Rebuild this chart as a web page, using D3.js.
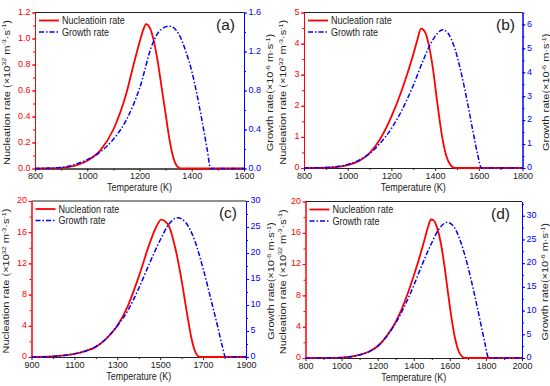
<!DOCTYPE html>
<html>
<head>
<meta charset="utf-8">
<script src="https://cdn.jsdelivr.net/npm/d3@7"></script>
<style>
body { margin: 0; background: #fff; }
svg text { font-family: "Liberation Sans", Arial, sans-serif; }
</style>
</head>
<body>
<svg id="chart" width="550" height="386"></svg>
<script>
// ---- data ----
// (a)
var tNucA = [800, 900, 950, 1000, 1050, 1100, 1150, 1180, 1200, 1215, 1225, 1240, 1255, 1270, 1285, 1300, 1315, 1330, 1345, 1360, 1600];
var nucA  = [0, 0.005, 0.02, 0.06, 0.14, 0.30, 0.58, 0.82, 0.97, 1.07, 1.11, 1.08, 0.98, 0.82, 0.62, 0.42, 0.22, 0.08, 0.015, 0, 0];
var tGroA = [800, 900, 950, 1000, 1050, 1100, 1150, 1200, 1250, 1280, 1315, 1350, 1380, 1400, 1420, 1440, 1460, 1472, 1600];
var groA  = [0, 0.01, 0.04, 0.09, 0.17, 0.30, 0.50, 0.82, 1.28, 1.42, 1.46, 1.38, 1.18, 1.00, 0.76, 0.48, 0.18, 0, 0];
// (b)
var tNucB = [800, 900, 950, 1000, 1050, 1100, 1150, 1200, 1250, 1300, 1320, 1335, 1350, 1370, 1390, 1410, 1430, 1450, 1470, 1490, 1800];
var nucB  = [0, 0.01, 0.03, 0.09, 0.22, 0.48, 0.95, 1.65, 2.55, 3.65, 4.15, 4.48, 4.42, 4.0, 3.2, 2.1, 1.1, 0.42, 0.1, 0, 0];
var tGroB = [800, 900, 950, 1000, 1050, 1100, 1150, 1200, 1250, 1300, 1350, 1380, 1410, 1435, 1460, 1490, 1520, 1550, 1575, 1595, 1612, 1800];
var groB  = [0, 0.02, 0.06, 0.15, 0.32, 0.60, 1.05, 1.65, 2.45, 3.45, 4.6, 5.2, 5.62, 5.78, 5.62, 5.0, 3.95, 2.65, 1.45, 0.55, 0, 0];
// (c)
var tNucC = [900, 1000, 1050, 1100, 1150, 1200, 1250, 1300, 1350, 1400, 1450, 1480, 1505, 1540, 1570, 1600, 1625, 1645, 1660, 1675, 1685, 1900];
var nucC  = [0, 0.08, 0.2, 0.4, 0.75, 1.3, 2.4, 4.0, 6.6, 10.3, 14.5, 16.6, 17.6, 16.8, 14.0, 9.8, 5.6, 2.5, 0.9, 0.15, 0, 0];
var tGroC = [900, 1000, 1050, 1100, 1150, 1200, 1250, 1300, 1350, 1400, 1450, 1500, 1540, 1580, 1620, 1660, 1700, 1740, 1770, 1790, 1805, 1900];
var groC  = [0, 0.12, 0.3, 0.6, 1.1, 2.0, 3.6, 6.0, 9.0, 13.2, 18.0, 22.5, 25.5, 26.8, 25.8, 22.5, 17.0, 10.5, 5.5, 2.0, 0, 0];
// (d)
var tNucD = [800, 900, 1000, 1100, 1150, 1200, 1250, 1300, 1350, 1400, 1450, 1480, 1495, 1510, 1530, 1550, 1570, 1590, 1610, 1630, 1650, 1670, 1685, 2000];
var nucD  = [0, 0.01, 0.06, 0.4, 0.8, 1.5, 2.8, 4.6, 7.2, 10.5, 14.3, 16.8, 17.7, 17.6, 16.6, 14.7, 11.8, 8.3, 5.0, 2.4, 0.8, 0.15, 0, 0];
var tGroD = [800, 900, 1000, 1100, 1150, 1200, 1250, 1300, 1350, 1400, 1450, 1500, 1540, 1585, 1620, 1660, 1700, 1740, 1770, 1795, 1815, 2000];
var groD  = [0, 0.02, 0.1, 0.66, 1.3, 2.5, 4.6, 7.4, 11.0, 15.3, 20.0, 24.3, 27.2, 28.6, 27.8, 24.5, 19.3, 12.8, 7.5, 3.0, 0, 0];

// tick values
var xTicksA = [800, 1000, 1200, 1400, 1600];
var xTicksB = [800, 1000, 1200, 1400, 1600, 1800];
var xTicksC = [900, 1100, 1300, 1500, 1700, 1900];
var xTicksD = [800, 1000, 1200, 1400, 1600, 1800, 2000];
var yLeftTicksA = [0, 0.2, 0.4, 0.6, 0.8, 1.0, 1.2];
var yRightTicksA = [0, 0.4, 0.8, 1.2, 1.6];
var yLeftTicksB = [0, 1, 2, 3, 4, 5];
var yRightTicksB = [0, 1, 2, 3, 4, 5, 6];
var yLeftTicksCD = [0, 4, 8, 12, 16, 20];
var yRightTicksCD = [0, 5, 10, 15, 20, 25, 30];

var RED = "#ff0000", BLUE = "#0000ff", DARK = "#222";

var panels = [
  { label: "(a)", legend: "Nucleatioin rate", left: 35, top: 12.5, right: 244, bottom: 168.5,
    xd: [800, 1600], xt: xTicksA, xm: 100, yl: [0, 1.2], ylt: yLeftTicksA, ylm: 0.1, ylf: ".1f",
    yr: [0, 1.6], yrt: yRightTicksA, yrm: 0.2, yrf: ".1f",
    tn: tNucA, n: nucA, tg: tGroA, gr: groA, lt: 5.5, rt: 269, lab: 9 },
  { label: "(b)", legend: "Nucleation rate", left: 304, top: 12.5, right: 522.5, bottom: 168,
    xd: [800, 1800], xt: xTicksB, xm: 100, yl: [0, 5], ylt: yLeftTicksB, ylm: 0.5, ylf: "d",
    yr: [0, 6.5], yrt: yRightTicksB, yrm: 0.5, yrf: "d",
    tn: tNucB, n: nucB, tg: tGroB, gr: groB, lt: 282, rt: 545, lab: 7.5 },
  { label: "(c)", legend: "Nucleation rate", left: 31.5, top: 201, right: 246, bottom: 357,
    xd: [900, 1900], xt: xTicksC, xm: 100, yl: [0, 20], ylt: yLeftTicksCD, ylm: 2, ylf: "d",
    yr: [0, 30], yrt: yRightTicksCD, yrm: 2.5, yrf: "d",
    tn: tNucC, n: nucC, tg: tGroC, gr: groC, lt: 5, rt: 270, lab: 9 },
  { label: "(d)", legend: "Nucleation rate", left: 305.5, top: 201.5, right: 522, bottom: 358,
    xd: [800, 2000], xt: xTicksD, xm: 100, yl: [0, 20], ylt: yLeftTicksCD, ylm: 2, ylf: "d",
    yr: [0, 33], yrt: yRightTicksCD, yrm: 2.5, yrf: "d",
    tn: tNucD, n: nucD, tg: tGroD, gr: groD, lt: 281.5, rt: 544, lab: 12 }
];

var svg = d3.select("#chart");
svg.append("rect").attr("width", 550).attr("height", 386).attr("fill", "#fff");

function range(a, b, s) {
  var out = [];
  for (var v = a; v <= b + 1e-9; v += s) out.push(+v.toFixed(4));
  return out;
}

// horizontally squeezed text, the picture is a bit narrower than tall
function sqText(g, x, y, size, str, anchor, color) {
  return g.append("text")
    .attr("transform", "translate(" + x + "," + y + ") scale(0.86,1)")
    .attr("font-size", size)
    .attr("text-anchor", anchor)
    .attr("fill", color)
    .text(str);
}

function styleAxis(sel, color) {
  sel.select(".domain").attr("stroke", color).attr("stroke-width", 1);
  sel.selectAll(".tick line").attr("stroke", color).attr("stroke-width", 1);
  sel.selectAll(".tick text").attr("fill", color).attr("font-size", 9)
     .attr("font-family", "Liberation Sans, Arial, sans-serif");
}

function supTitle(g, x, y, parts, size, color) {
  var t = g.append("text")
    .attr("transform", "translate(" + x + "," + y + ") scale(0.86,1) rotate(-90)")
    .attr("text-anchor", "middle")
    .attr("font-size", size)
    .attr("fill", color);
  var shift = 0;
  parts.forEach(function(p) {
    var s = t.append("tspan").text(p[0]);
    if (p[1]) {
      s.attr("font-size", size * 0.65).attr("dy", -4 - shift);
      shift = -4;
    } else {
      s.attr("dy", -shift);
      shift = 0;
    }
  });
  return t;
}

panels.forEach(function(p) {
  var g = svg.append("g");
  var x = d3.scaleLinear().domain(p.xd).range([p.left, p.right]);
  var yL = d3.scaleLinear().domain(p.yl).range([p.bottom, p.top]);
  var yR = d3.scaleLinear().domain(p.yr).range([p.bottom, p.top]);

  // top frame line
  g.append("line").attr("x1", p.left).attr("x2", p.right)
    .attr("y1", p.top).attr("y2", p.top).attr("stroke", DARK).attr("stroke-width", 1);

  // bottom axis
  var xMinor = range(p.xd[0], p.xd[1], p.xm).filter(function(v) { return p.xt.indexOf(v) < 0; });
  var gxm = g.append("g").attr("transform", "translate(0," + p.bottom + ")")
    .call(d3.axisBottom(x).tickValues(xMinor).tickSize(2).tickSizeOuter(0).tickFormat(""));
  styleAxis(gxm, DARK);
  var gx = g.append("g").attr("transform", "translate(0," + p.bottom + ")")
    .call(d3.axisBottom(x).tickValues(p.xt).tickSize(3).tickSizeOuter(0).tickPadding(1.5).tickFormat(d3.format("d")));
  styleAxis(gx, DARK);

  // left axis
  var ylMinor = range(p.yl[0], p.yl[1], p.ylm);
  var gym = g.append("g").attr("transform", "translate(" + p.left + ",0)")
    .call(d3.axisLeft(yL).tickValues(ylMinor).tickSize(2).tickSizeOuter(0).tickFormat(""));
  styleAxis(gym, RED);
  var gy = g.append("g").attr("transform", "translate(" + p.left + ",0)")
    .call(d3.axisLeft(yL).tickValues(p.ylt).tickSize(3).tickSizeOuter(0).tickPadding(1.5).tickFormat(d3.format(p.ylf)));
  styleAxis(gy, RED);
  gy.selectAll(".tick text").attr("dy", "0.2em");

  // right axis
  var yrMinor = range(p.yr[0], p.yr[1], p.yrm);
  var grm = g.append("g").attr("transform", "translate(" + p.right + ",0)")
    .call(d3.axisRight(yR).tickValues(yrMinor).tickSize(2).tickSizeOuter(0).tickFormat(""));
  styleAxis(grm, BLUE);
  var gr = g.append("g").attr("transform", "translate(" + p.right + ",0)")
    .call(d3.axisRight(yR).tickValues(p.yrt).tickSize(3).tickSizeOuter(0).tickPadding(1.5).tickFormat(d3.format(p.yrf)));
  styleAxis(gr, BLUE);
  gr.selectAll(".tick text").attr("dy", "0.2em");

  // curves
  var nucLine = d3.line().curve(d3.curveMonotoneX)
    .x(function(d, i) { return x(p.tn[i]); })
    .y(function(d) { return yL(d); });
  var groLine = d3.line().curve(d3.curveMonotoneX)
    .x(function(d, i) { return x(p.tg[i]); })
    .y(function(d) { return yR(d); });

  g.append("path").datum(p.n).attr("d", nucLine)
    .attr("fill", "none").attr("stroke", RED).attr("stroke-width", 1.8);
  g.append("path").datum(p.gr).attr("d", groLine)
    .attr("fill", "none").attr("stroke", BLUE).attr("stroke-width", 1.5)
    .attr("stroke-dasharray", "5,2,1.5,2");

  // legend
  var lx = p.left + 4, ly = p.top + 8;
  g.append("line").attr("x1", lx).attr("x2", lx + 20).attr("y1", ly).attr("y2", ly)
    .attr("stroke", RED).attr("stroke-width", 1.8);
  sqText(g, lx + 23, ly + 3.8, 10.5, p.legend, "start", DARK);
  g.append("line").attr("x1", lx).attr("x2", lx + 20).attr("y1", ly + 11.5).attr("y2", ly + 11.5)
    .attr("stroke", BLUE).attr("stroke-width", 1.5).attr("stroke-dasharray", "5,2,1.5,2");
  sqText(g, lx + 23, ly + 15.3, 10.5, "Growth rate", "start", DARK);

  // panel label
  g.append("text").attr("x", p.right - p.lab).attr("y", p.top + 17)
    .attr("text-anchor", "end").attr("font-size", 15.5).attr("fill", DARK).text(p.label);

  // axis titles
  sqText(g, (p.left + p.right) / 2, p.bottom + 22.5, 10.5, "Temperature (K)", "middle", DARK);
  var cy = (p.top + p.bottom) / 2 + 2;
  supTitle(g, p.lt + 4, cy, [["Nucleation rate (\u00d710"], ["32", 1], [" m"], ["-3", 1], ["\u00b7s"], ["-1", 1], [")"]], 11, DARK);
  supTitle(g, p.rt + 4, cy, [["Growth rate(\u00d710"], ["-6", 1], [" m\u00b7s"], ["-1", 1], [")"]], 11, DARK);
});
</script>
</body>
</html>
